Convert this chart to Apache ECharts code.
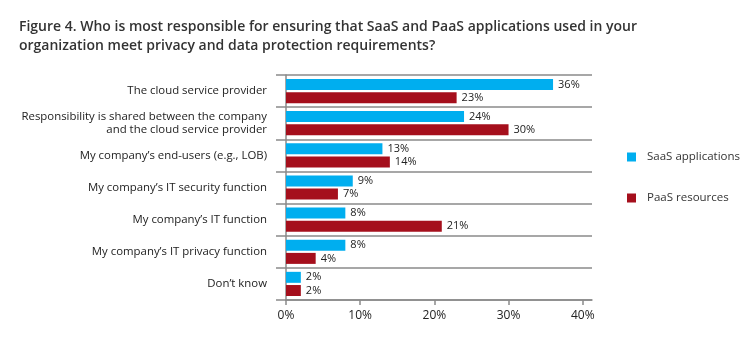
<!DOCTYPE html>
<html>
<head>
<meta charset="utf-8">
<script src="https://cdn.jsdelivr.net/npm/echarts@6/dist/echarts.min.js"></script>
<style>
  html, body { margin: 0; padding: 0; background: #fff; }
  #chart { width: 750px; height: 337px; }
</style>
</head>
<body>
<div id="chart"></div>
<script>
// Survey answers, listed top to bottom
const categories = [
  "The cloud service provider",
  "Responsibility is shared between the company\nand the cloud service provider",
  "My company\u2019s end-users (e.g., LOB)",
  "My company\u2019s IT security function",
  "My company\u2019s IT function",
  "My company\u2019s IT privacy function",
  "Don\u2019t know"
];
const seriesNames = ["SaaS applications", "PaaS resources"];
const saasValues = [36, 24, 13, 9, 8, 8, 2];
const paasValues = [23, 30, 14, 7, 21, 4, 2];
const xTicks = [0, 10, 20, 30, 40];

const FONT = "'Open Sans', 'Noto Sans', sans-serif";
const BLUE = "#00AEEF";
const RED = "#A50F1C";
const LINE = "#8a8a8a";

const chart = echarts.init(document.getElementById("chart"), null, { renderer: "canvas" });

const labelStyle = {
  show: true,
  position: "right",
  distance: 5,
  formatter: "{c}%",
  fontFamily: FONT,
  fontSize: 11,
  color: "#222"
};

chart.setOption({
  animation: false,
  title: {
    text: "Figure 4. Who is most responsible for ensuring that SaaS and PaaS applications used in your\norganization meet privacy and data protection requirements?",
    left: 14,
    top: 13,
    textStyle: {
      fontFamily: FONT,
      fontSize: 14,
      fontWeight: 600,
      color: "#333",
      lineHeight: 19
    }
  },
  legend: {
    orient: "vertical",
    left: 622,
    top: 146,
    itemWidth: 9,
    itemHeight: 9,
    itemGap: 29,
    icon: "rect",
    textStyle: { fontFamily: FONT, fontSize: 11.5, color: "#333", padding: [0, 0, 0, 6] },
    data: seriesNames
  },
  grid: { left: 286, right: 158, top: 75, bottom: 37, containLabel: false },
  xAxis: {
    type: "value",
    min: 0,
    max: 41.25,
    splitLine: { show: false },
    axisLine: { show: true, lineStyle: { color: LINE, width: 1.5 } },
    axisTick: { show: true, length: 5, customValues: xTicks, lineStyle: { color: LINE, width: 1.5 } },
    axisLabel: {
      customValues: xTicks,
      formatter: "{value}%",
      margin: 10,
      fontFamily: FONT,
      fontSize: 12,
      color: "#222"
    }
  },
  yAxis: {
    type: "category",
    inverse: true,
    data: categories,
    axisLine: { show: true, lineStyle: { color: LINE, width: 1.5 } },
    axisTick: { show: true, length: 10, interval: 0, lineStyle: { color: LINE, width: 1.5 } },
    splitLine: { show: true, interval: 0, lineStyle: { color: LINE, width: 1.5 } },
    axisLabel: {
      interval: 0,
      margin: 19,
      align: "right",
      fontFamily: FONT,
      fontSize: 11.4,
      lineHeight: 13,
      color: "#222"
    }
  },
  series: [
    {
      name: seriesNames[0],
      type: "bar",
      data: saasValues,
      barWidth: 11,
      barGap: "20%",
      itemStyle: { color: BLUE },
      label: labelStyle
    },
    {
      name: seriesNames[1],
      type: "bar",
      data: paasValues,
      barWidth: 11,
      itemStyle: { color: RED },
      label: labelStyle
    }
  ]
});
</script>
</body>
</html>
